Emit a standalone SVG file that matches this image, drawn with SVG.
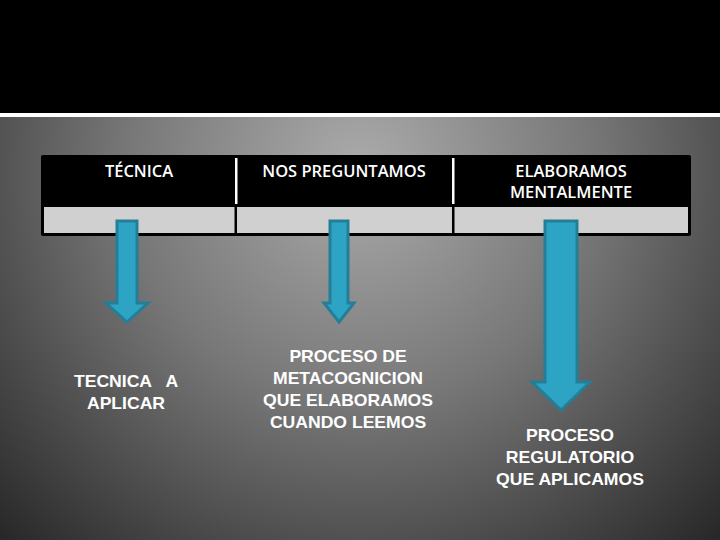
<svg xmlns="http://www.w3.org/2000/svg" width="720" height="540" viewBox="0 0 720 540">
<defs>
<radialGradient id="bg" gradientUnits="userSpaceOnUse" cx="360" cy="170" r="520">
<stop offset="0" stop-color="#ababab"/>
<stop offset="0.45" stop-color="#777"/>
<stop offset="1" stop-color="#262626"/>
</radialGradient>
<style>
.hd{font-family:"Open Sans","Liberation Sans",sans-serif;font-weight:600;font-size:16px;fill:#fff;text-anchor:middle}
.lb{font-family:"Liberation Sans",Arial,sans-serif;font-weight:bold;font-size:16px;fill:#fff;text-anchor:middle}
.arw{fill:#2ea4c4;stroke:#237f98;stroke-width:3;stroke-linejoin:miter}
</style>
</defs>
<rect x="0" y="0" width="720" height="540" fill="url(#bg)"/>
<rect x="0" y="0" width="720" height="113" fill="#000"/>
<rect x="0" y="113" width="720" height="4" fill="#fff"/>
<g id="table">
<rect x="41" y="155" width="650" height="81" rx="2" fill="#000"/>
<rect x="44" y="207" width="644" height="26" fill="#d0d0d0"/>
<rect x="235" y="158" width="2.5" height="46" fill="#fff"/>
<rect x="452" y="158" width="2.5" height="46" fill="#fff"/>
<rect x="234.5" y="207" width="2.5" height="26" fill="#000"/>
<rect x="452" y="207" width="2.5" height="26" fill="#000"/>
<g transform="translate(139 0) scale(1.03 1)"><text class="hd" x="0" y="177">TÉCNICA</text></g>
<g transform="translate(344 0) scale(1.03 1)"><text class="hd" x="0" y="177">NOS PREGUNTAMOS</text></g>
<g transform="translate(571 0) scale(1.03 1)"><text class="hd" x="0" y="177">ELABORAMOS</text><text class="hd" x="0" y="198">MENTALMENTE</text></g>
</g>
<g id="connectors">
<path class="arw" d="M117 221 H137 V303 H148 L127 322 L106 303 H117 Z"/>
<path class="arw" d="M330 221 H348 V303 H354 L339 322 L324 303 H330 Z"/>
<path class="arw" d="M545 221 H577 V382 H590 L561 410 L532 382 H545 Z"/>
</g>
<g id="n1" transform="translate(126 0) scale(1.1 1)"><text class="lb" x="0" y="387" xml:space="preserve">TECNICA   A</text><text class="lb" x="0" y="409">APLICAR</text></g>
<g id="n2" transform="translate(348 0) scale(1.1 1)"><text class="lb" x="0" y="362">PROCESO DE</text><text class="lb" x="0" y="384">METACOGNICION</text><text class="lb" x="0" y="406">QUE ELABORAMOS</text><text class="lb" x="0" y="428">CUANDO LEEMOS</text></g>
<g id="n3" transform="translate(570 0) scale(1.1 1)"><text class="lb" x="0" y="441">PROCESO</text><text class="lb" x="0" y="463">REGULATORIO</text><text class="lb" x="0" y="485">QUE APLICAMOS</text></g>
</svg>
